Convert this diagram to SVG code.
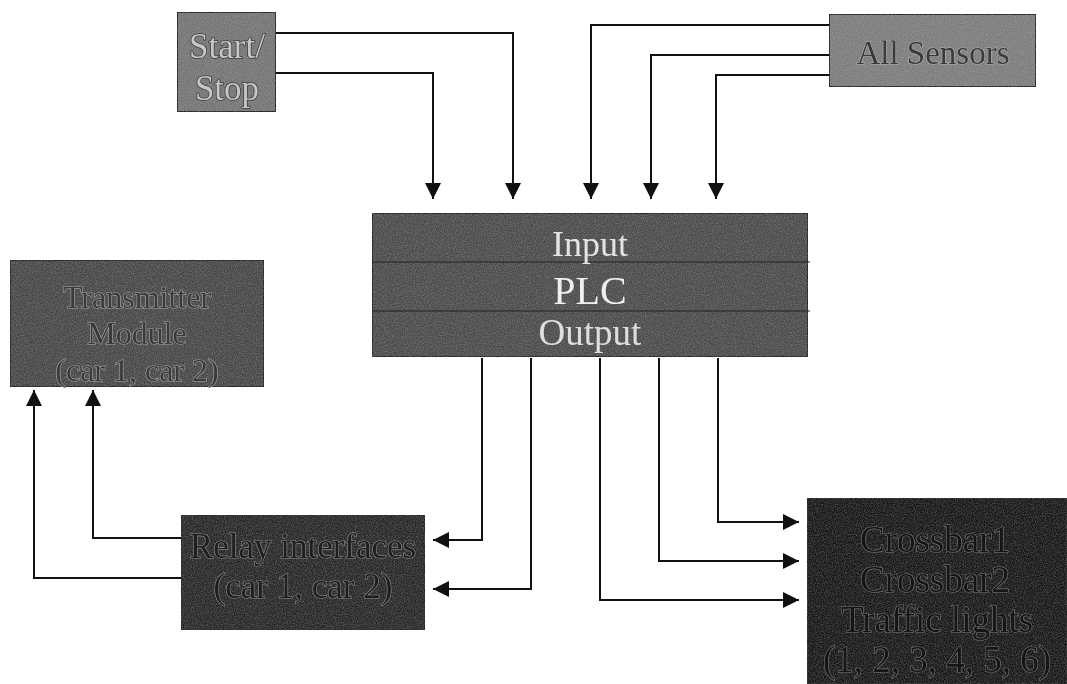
<svg xmlns="http://www.w3.org/2000/svg" width="1067" height="684" viewBox="0 0 1067 684">
<defs>
<filter id="noise" x="0" y="0" width="100%" height="100%" color-interpolation-filters="sRGB">
<feTurbulence type="fractalNoise" baseFrequency="0.9" numOctaves="2" seed="3" result="n"/>
<feColorMatrix in="n" type="matrix" values="0 0 0 0 0.8  0 0 0 0 0.8  0 0 0 0 0.8  0 0 0 0.6 -0.2" result="speck"/>
<feComposite in="speck" in2="SourceGraphic" operator="atop"/>
</filter>
<marker id="arr" viewBox="0 0 10 10" refX="10" refY="5" markerWidth="8" markerHeight="8" markerUnits="strokeWidth" orient="auto">
<path d="M0,0 L10,5 L0,10 Z" fill="#111"/>
</marker>
<style>
.box{stroke:#222;stroke-width:2;filter:url(#noise)}
.t{font-family:"Liberation Serif","Times New Roman",serif;text-anchor:middle;paint-order:stroke;opacity:0.99}
.c{fill:none;stroke:#111;stroke-width:2;marker-end:url(#arr)}
</style>
</defs>
<rect width="1067" height="684" fill="#ffffff"/>

<g id="connectors">
<polyline class="c" points="276,33 513,33 513,199"/>
<polyline class="c" points="276,73 433,73 433,199"/>
<polyline class="c" points="829,25 591,25 591,199"/>
<polyline class="c" points="829,55 651,55 651,199"/>
<polyline class="c" points="829,75 716,75 716,199"/>
<polyline class="c" points="482,358 482,540 433,540"/>
<polyline class="c" points="531,358 531,589 433,589"/>
<polyline class="c" points="600,358 600,600 799,600"/>
<polyline class="c" points="659,358 659,561 799,561"/>
<polyline class="c" points="718,358 718,522 799,522"/>
<polyline class="c" points="181,538 93,538 93,390"/>
<polyline class="c" points="181,578 34,578 34,390"/>
</g>

<g id="start-stop">
<rect class="box" x="177" y="12" width="99" height="100" fill="#747474"/>
<text class="t" x="227" y="58" font-size="35" fill="#c8c8c8" stroke="#3a3a3a" stroke-width="1.5">Start/</text>
<text class="t" x="227" y="100" font-size="35" fill="#c8c8c8" stroke="#3a3a3a" stroke-width="1.5">Stop</text>
</g>

<g id="all-sensors">
<rect class="box" x="829" y="14" width="207" height="73" fill="#7c7c7c"/>
<text class="t" x="933" y="64" font-size="33" fill="#3a3a3a" stroke="#b0b0b0" stroke-width="1.2">All Sensors</text>
</g>

<g id="plc">
<rect class="box" x="372" y="213" width="436" height="144" fill="#4a4a4a"/>
<line x1="372" y1="262" x2="810" y2="262" stroke="#222" stroke-width="1.2"/>
<line x1="372" y1="311" x2="810" y2="311" stroke="#222" stroke-width="1.2"/>
<text class="t" x="590" y="256" font-size="36" fill="#e6e6e6">Input</text>
<text class="t" x="590" y="304" font-size="40" fill="#f2f2f2">PLC</text>
<text class="t" x="590" y="345" font-size="37" fill="#e0e0e0">Output</text>
</g>

<g id="transmitter">
<rect class="box" x="10" y="260" width="254" height="127" fill="#464646"/>
<text class="t" x="137" y="308" font-size="32" fill="#3a3a3a" stroke="#a8a8a8" stroke-width="1.2">Transmitter</text>
<text class="t" x="137" y="344" font-size="32" fill="#3a3a3a" stroke="#a8a8a8" stroke-width="1.2">Module</text>
<text class="t" x="137" y="381" font-size="32" fill="#3a3a3a" stroke="#a8a8a8" stroke-width="1.2">(car 1, car 2)</text>
</g>

<g id="relay">
<rect class="box" x="181" y="515" width="244" height="115" fill="#262626"/>
<text class="t" x="303" y="558" font-size="35" fill="#1e1e1e" stroke="#8c8c8c" stroke-width="1.2">Relay interfaces</text>
<text class="t" x="303" y="598" font-size="35" fill="#1e1e1e" stroke="#8c8c8c" stroke-width="1.2">(car 1, car 2)</text>
</g>

<g id="crossbar">
<rect class="box" x="807" y="498" width="260" height="186" fill="#161616"/>
<text class="t" x="935" y="552" font-size="37" fill="#151515" stroke="#7a7a7a" stroke-width="1.2">Crossbar1</text>
<text class="t" x="935" y="592" font-size="37" fill="#151515" stroke="#7a7a7a" stroke-width="1.2">Crossbar2</text>
<text class="t" x="937" y="632" font-size="37" fill="#151515" stroke="#7a7a7a" stroke-width="1.2">Traffic lights</text>
<text class="t" x="937" y="672" font-size="37" fill="#151515" stroke="#7a7a7a" stroke-width="1.2">(1, 2, 3, 4, 5, 6)</text>
</g>
</svg>
